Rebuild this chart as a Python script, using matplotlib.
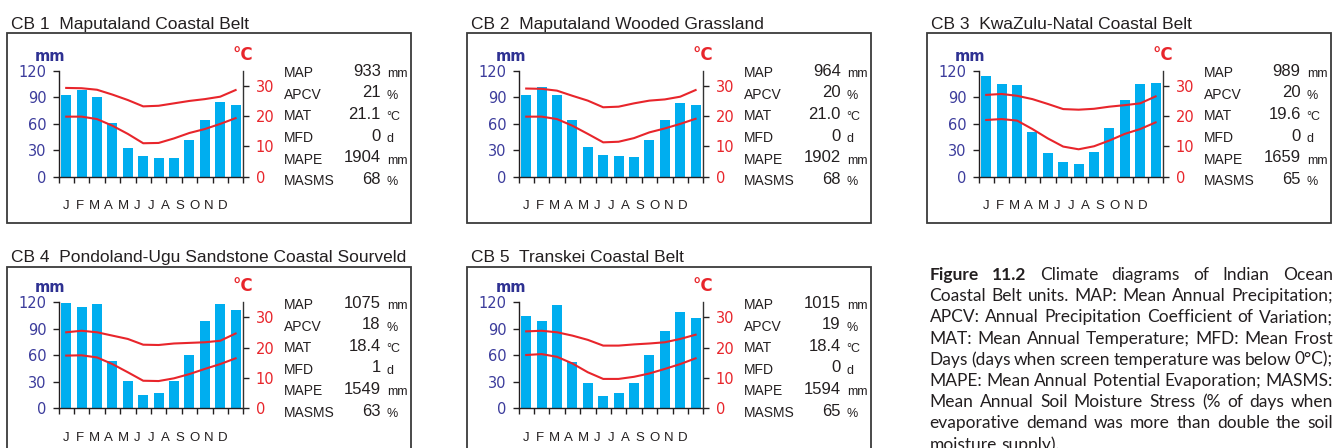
import numpy as np
import matplotlib
matplotlib.use('Agg')
import matplotlib.pyplot as plt
from matplotlib.patches import Rectangle
from matplotlib.transforms import blended_transform_factory

W, H = 1335, 448

months = ['J', 'F', 'M', 'A', 'M', 'J', 'J', 'A', 'S', 'O', 'N', 'D']
stat_names = ['MAP', 'APCV', 'MAT', 'MFD', 'MAPE', 'MASMS']
stat_units = ['mm', '%', '°C', 'd', 'mm', '%']

titles = ['CB 1  Maputaland Coastal Belt',
          'CB 2  Maputaland Wooded Grassland',
          'CB 3  KwaZulu-Natal Coastal Belt',
          'CB 4  Pondoland-Ugu Sandstone Coastal Sourveld',
          'CB 5  Transkei Coastal Belt']

# monthly rainfall (mm)
rain_cb1 = [92, 98, 90, 61, 32, 23, 21, 21, 41, 64, 85, 81]
rain_cb2 = [93, 102, 93, 64, 34, 24, 23, 22, 41, 64, 83, 81]
rain_cb3 = [114, 105, 104, 51, 27, 16, 14, 28, 55, 87, 105, 106]
rain_cb4 = [119, 115, 118, 53, 31, 15, 17, 31, 60, 99, 118, 111]
rain_cb5 = [104, 99, 117, 52, 29, 14, 17, 29, 60, 88, 109, 102]

# mean daily max / min temperature (deg C)
tmax_cb1 = [29.3, 29.2, 28.7, 27.1, 25.3, 23.2, 23.4, 24.2, 25.0, 25.6, 26.4, 28.6]
tmin_cb1 = [19.8, 19.8, 19.0, 16.8, 14.1, 11.0, 11.1, 12.6, 14.4, 15.7, 17.4, 19.3]
tmax_cb2 = [29.1, 29.0, 28.4, 26.7, 25.1, 22.9, 23.1, 24.2, 25.1, 25.5, 26.4, 28.6]
tmin_cb2 = [19.8, 19.8, 19.0, 16.8, 14.1, 11.3, 11.5, 12.7, 14.6, 15.9, 17.4, 19.1]
tmax_cb3 = [27.0, 27.3, 26.7, 25.6, 24.0, 22.3, 22.1, 22.4, 23.1, 23.6, 24.2, 26.5]
tmin_cb3 = [18.7, 19.0, 18.5, 15.7, 12.6, 9.9, 9.0, 10.0, 11.9, 14.1, 15.7, 17.9]
tmax_cb4 = [25.1, 25.6, 25.1, 24.0, 22.9, 21.0, 20.9, 21.4, 21.6, 21.8, 22.3, 24.7]
tmin_cb4 = [17.4, 17.5, 16.8, 14.6, 11.9, 9.1, 9.0, 9.9, 11.3, 13.0, 14.6, 16.5]
tmax_cb5 = [25.4, 25.6, 25.1, 24.0, 22.6, 20.7, 20.7, 21.1, 21.4, 21.8, 22.9, 24.3]
tmin_cb5 = [17.6, 17.9, 17.0, 14.8, 11.9, 9.7, 9.7, 10.4, 11.5, 13.0, 14.6, 16.5]

# MAP, APCV, MAT, MFD, MAPE, MASMS
stats_cb1 = ['933', '21', '21.1', '0', '1904', '68']
stats_cb2 = ['964', '20', '21.0', '0', '1902', '68']
stats_cb3 = ['989', '20', '19.6', '0', '1659', '65']
stats_cb4 = ['1075', '18', '18.4', '1', '1549', '63']
stats_cb5 = ['1015', '19', '18.4', '0', '1594', '65']

caption_lines = [
    'Figure 11.2 Climate diagrams of Indian Ocean',
    'Coastal Belt units. MAP: Mean Annual Precipitation;',
    'APCV: Annual Precipitation Coefficient of Variation;',
    'MAT: Mean Annual Temperature; MFD: Mean Frost',
    'Days (days when screen temperature was below 0°C);',
    'MAPE: Mean Annual Potential Evaporation; MASMS:',
    'Mean Annual Soil Moisture Stress (% of days when',
    'evaporative demand was more than double the soil',
    'moisture supply).',
]

rains = [rain_cb1, rain_cb2, rain_cb3, rain_cb4, rain_cb5]
tmaxs = [tmax_cb1, tmax_cb2, tmax_cb3, tmax_cb4, tmax_cb5]
tmins = [tmin_cb1, tmin_cb2, tmin_cb3, tmin_cb4, tmin_cb5]
stats = [stats_cb1, stats_cb2, stats_cb3, stats_cb4, stats_cb5]

BAR = '#00AEEF'
RED = '#E8252B'
BLUE = '#3C3C9C'
NAVY = '#2E3192'
INK = '#231F20'
SANS = ['Liberation Sans', 'DejaVu Sans']

fig = plt.figure(figsize=(W / 100, H / 100), dpi=100)


def fx(x):
    return x / W


def fy(y):
    return 1 - y / H


# panel offsets (px) and per-row geometry
offsets = [(0, 0), (460, 0), (920, 0), (0, 1), (460, 1)]
rows = [
    dict(title=29.3, box=33.3, top=70.7, bottom=176.5, stat=77.3),
    dict(title=261.7, box=266.5, top=302.3, bottom=408.3, stat=309.0),
]
tick_len = 4.3

x = np.arange(12)
for i in range(5):
    dx, r = offsets[i]
    g = rows[r]

    # frame + title
    box_bottom = 223.0 if r == 0 else 480
    fig.add_artist(Rectangle((fx(7.3 + dx), fy(box_bottom)), (411 - 7.3) / W,
                             (box_bottom - g['box']) / H, transform=fig.transFigure,
                             fill=False, ec='#3A3A3A', lw=1.3))
    fig.text(fx(11 + dx), fy(g['title']), titles[i], fontsize=12.5, family=SANS,
             color=INK, va='baseline', ha='left')

    ax = fig.add_axes([fx(58.5 + dx), fy(g['bottom']), (243.3 - 58.5) / W,
                       (g['bottom'] - g['top']) / H])
    ax.patch.set_alpha(0)
    ax.bar(x, rains[i], width=0.65, color=BAR, zorder=2)
    ax.set_xlim(-0.5, 11.5)
    ax.set_ylim(0, 120)
    ax.set_yticks([0, 30, 60, 90, 120])
    ax.set_xticks(np.arange(-0.5, 12, 1))
    ax.set_xticklabels([])
    ax.tick_params(axis='y', direction='out', length=tick_len, width=1, pad=4.5,
                   labelsize=10.5, colors=INK)
    ax.tick_params(axis='y', labelcolor=BLUE)
    ax.tick_params(axis='x', direction='out', length=tick_len, width=1, colors=INK)
    for s in ['top', 'right']:
        ax.spines[s].set_visible(False)
    for s in ['left', 'bottom']:
        ax.spines[s].set_color(INK)
        ax.spines[s].set_linewidth(1.0)

    ax2 = ax.twinx()
    ax2.plot(x, tmaxs[i], color=RED, lw=1.5, zorder=3)
    ax2.plot(x, tmins[i], color=RED, lw=1.5, zorder=3)
    ax2.set_ylim(0, 35)
    ax2.set_yticks([0, 10, 20, 30])
    ax2.tick_params(axis='y', direction='out', length=tick_len, width=1, pad=4.5,
                    labelsize=10.5, colors=INK)
    ax2.tick_params(axis='y', labelcolor=RED)
    for s in ['top', 'left', 'bottom']:
        ax2.spines[s].set_visible(False)
    ax2.spines['right'].set_color('#333333')
    ax2.spines['right'].set_linewidth(1.0)

    # month letters (slightly tighter than the bars, as in the original)
    tr = blended_transform_factory(ax.transData, fig.transFigure)
    for k, m in enumerate(months):
        ax.text(k * 0.924, fy(g['bottom'] + 32.8), m, transform=tr, ha='center',
                va='baseline', fontsize=9.5, family=SANS, color=INK)

    # axis unit labels
    fig.text(fx(50.5 + dx), fy(g['top'] - 14.4), 'mm', ha='center', va='center',
             fontsize=10.5, weight='bold', color=NAVY)
    fig.text(fx(242.5 + dx), fy(g['top'] - 16.2), '°C', ha='center', va='center',
             fontsize=12, weight='bold', color=RED)

    # statistics block
    for k in range(6):
        yb = g['stat'] + 21.6 * k
        fig.text(fx(284.3 + dx), fy(yb), stat_names[k], ha='left', va='baseline',
                 fontsize=10, family=SANS, color=INK)
        fig.text(fx(380.7 + dx), fy(yb - 1.5), stats[i][k], ha='right', va='baseline',
                 fontsize=12, family=SANS, color=INK)
        fig.text(fx(386.7 + dx), fy(yb), stat_units[k], ha='left', va='baseline',
                 fontsize=9, family=SANS, color=INK)

# caption, justified between two margins
cap_left, cap_right = 929.5, 1333.0
cap_font = ['Lato', 'DejaVu Sans']
cap_fs = 12.5
renderer = fig.canvas.get_renderer()


def word_width(word, weight):
    t = fig.text(0, 0, word, fontsize=cap_fs, family=cap_font, weight=weight)
    w = t.get_window_extent(renderer).width
    t.remove()
    return w


space_w = word_width('a b', 'normal') - word_width('ab', 'normal')
for n, line in enumerate(caption_lines):
    words = line.split(' ')
    weights = ['bold' if (n == 0 and j < 2) else 'normal' for j in range(len(words))]
    widths = [word_width(w, wt) for w, wt in zip(words, weights)]
    if n < len(caption_lines) - 1:
        gap = (cap_right - cap_left - sum(widths)) / (len(words) - 1)
    else:
        gap = space_w
    xpos = cap_left
    yb = 280.0 + 21.2 * n
    for w, wt, wd in zip(words, weights, widths):
        fig.text(fx(xpos), fy(yb), w, ha='left', va='baseline', fontsize=cap_fs,
                 family=cap_font, weight=wt, color=INK)
        xpos += wd + gap

fig.savefig('out.png', dpi=100)
